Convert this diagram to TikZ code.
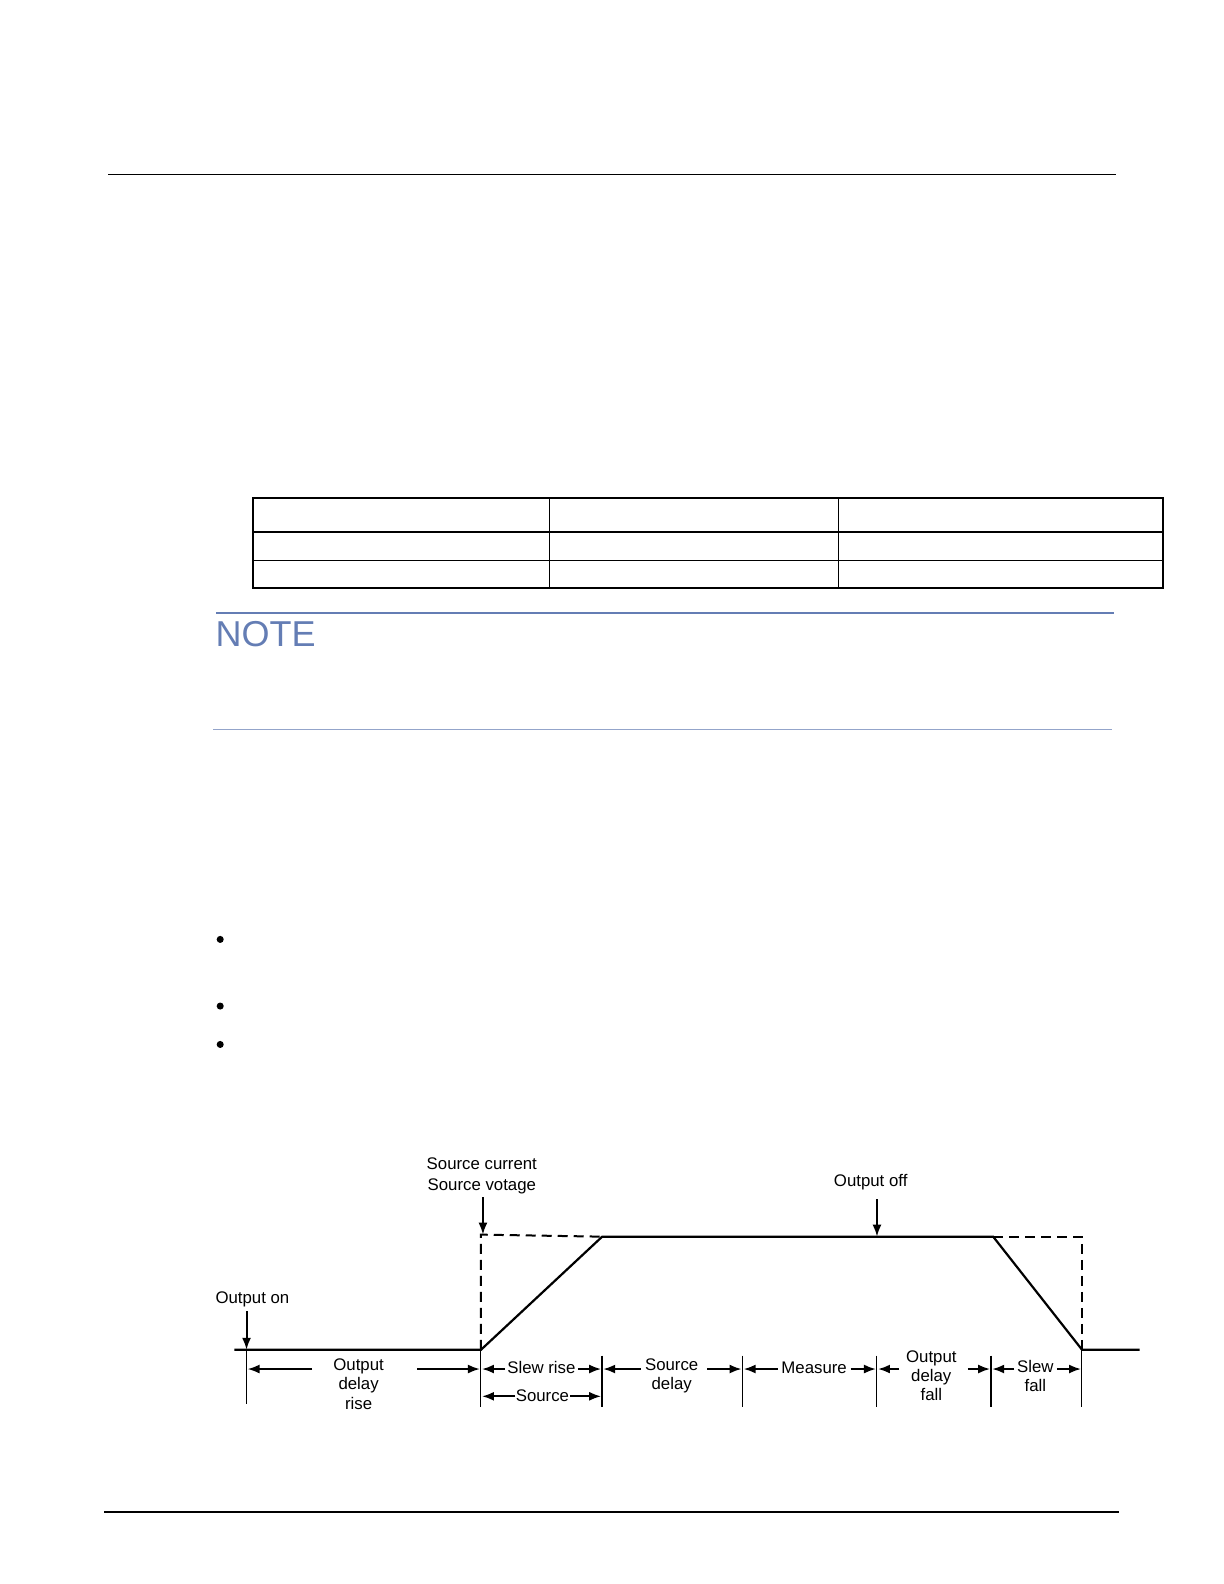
\documentclass[tikz,border=0pt]{standalone}
\usepackage{fontspec}
\setmainfont{Liberation Sans}
\usetikzlibrary{arrows.meta}
\definecolor{noteblue}{RGB}{100,125,180}
\begin{document}
\begin{tikzpicture}[x=0.5pt,y=-0.5pt,
  lab/.style={font=\fontsize{8.4}{9.7}\selectfont,align=center,inner sep=0pt},
  wave/.style={line width=1.1pt},
  dashline/.style={line width=1pt,dash pattern=on 5pt off 3pt},
  tick/.style={line width=0.6pt},
  arr/.style={line width=1pt,-{Latex[length=6pt,width=4.5pt]}}]
\useasboundingbox (0,0) rectangle (1224,1584);
\begin{scope}[scale=1.0101]
% page elements
\draw[line width=0.6pt] (107,173) -- (1105,173);
\draw[line width=0.8pt] (103,1497) -- (1108,1497);
\draw[line width=1pt] (250,493) rectangle (1151,582);
\draw[line width=1pt] (250,527) -- (1151,527);
\draw[line width=0.6pt] (250,555) -- (1151,555);
\foreach \x in {544,830} \draw[line width=0.6pt] (\x,493) -- (\x,582);
\draw[noteblue,line width=1.2pt] (214,607) -- (1103,607);
\node[anchor=west,text=noteblue,font=\fontsize{18}{20}\selectfont,inner sep=0pt] (note) at (213,628) {NOTE};
\draw[noteblue!70,line width=0.5pt] (211,722) -- (1101,722);
\foreach \y in {930,996,1034} \fill (218,\y) circle (3.5);
% waveform
\coordinate (w0) at (232,1336); \coordinate (w1) at (476,1336);
\coordinate (w2) at (596,1224); \coordinate (w3) at (983,1224);
\coordinate (w4) at (1071,1336); \coordinate (w5) at (1128,1336);
\draw[wave] (w0) -- (w1) -- (w2) -- (w3) -- (w4) -- (w5);
\coordinate (d1) at (476,1222); \coordinate (d2) at (1071,1224);
\draw[dashline] (w1) -- (d1) -- (w2);
\draw[dashline] (w3) -- (d2) -- (w4);
% labels with arrows
\node[lab,anchor=west] (on) at (213,1286) {Output on};
\coordinate (onA) at (244,1298); \coordinate (onB) at (244,1336);
\draw[arr] (onA) -- (onB);
\node[lab] (src) at (477,1164) {Source current\\[1pt]Source votage};
\coordinate (srcA) at (478,1185); \coordinate (srcB) at (478,1222);
\draw[arr] (srcA) -- (srcB);
\node[lab] (off) at (862,1170) {Output off};
\coordinate (offA) at (868,1187); \coordinate (offB) at (868,1224);
\draw[arr] (offA) -- (offB);
% ticks
\foreach \x/\a/\b in {244/1336/1390,476/1336/1393,596/1342/1393,735/1342/1393,868/1342/1393,981/1342/1393,1071/1336/1393}
  \draw[tick] (\x,\a) -- (\x,\b);
% dimension labels
\node[lab] (odr) at (355,1370) {Output\\[0pt]delay\\[0pt]rise};
\coordinate (a1) at (309,1355); \coordinate (a1e) at (245,1355);
\coordinate (a2) at (413,1355); \coordinate (a2e) at (475,1355);
\draw[arr] (a1) -- (a1e); \draw[arr] (a2) -- (a2e);
\node[lab] (sr) at (536,1354) {Slew rise};
\coordinate (b1) at (500,1355); \coordinate (b1e) at (477,1355);
\coordinate (b2) at (572,1355); \coordinate (b2e) at (595,1355);
\draw[arr] (b1) -- (b1e); \draw[arr] (b2) -- (b2e);
\node[lab] (sd) at (665,1362) {Source\\[0pt]delay};
\coordinate (c1) at (634,1355); \coordinate (c1e) at (597,1355);
\coordinate (c2) at (700,1355); \coordinate (c2e) at (734,1355);
\draw[arr] (c1) -- (c1e); \draw[arr] (c2) -- (c2e);
\node[lab] (me) at (806,1354) {Measure};
\coordinate (e1) at (770,1355); \coordinate (e1e) at (736,1355);
\coordinate (e2) at (842,1355); \coordinate (e2e) at (867,1355);
\draw[arr] (e1) -- (e1e); \draw[arr] (e2) -- (e2e);
\node[lab] (odf) at (922,1362) {Output\\[0pt]delay\\[0pt]fall};
\coordinate (f1) at (890,1355); \coordinate (f1e) at (869,1355);
\coordinate (f2) at (958,1355); \coordinate (f2e) at (980,1355);
\draw[arr] (f1) -- (f1e); \draw[arr] (f2) -- (f2e);
\node[lab] (sf) at (1025,1362) {Slew\\[0pt]fall};
\coordinate (g1) at (1004,1355); \coordinate (g1e) at (982,1355);
\coordinate (g2) at (1046,1355); \coordinate (g2e) at (1070,1355);
\draw[arr] (g1) -- (g1e); \draw[arr] (g2) -- (g2e);
\node[lab] (so) at (537,1382) {Source};
\coordinate (h1) at (510,1382); \coordinate (h1e) at (477,1382);
\coordinate (h2) at (564,1382); \coordinate (h2e) at (595,1382);
\draw[arr] (h1) -- (h1e); \draw[arr] (h2) -- (h2e);
\end{scope}
\end{tikzpicture}
\end{document}
